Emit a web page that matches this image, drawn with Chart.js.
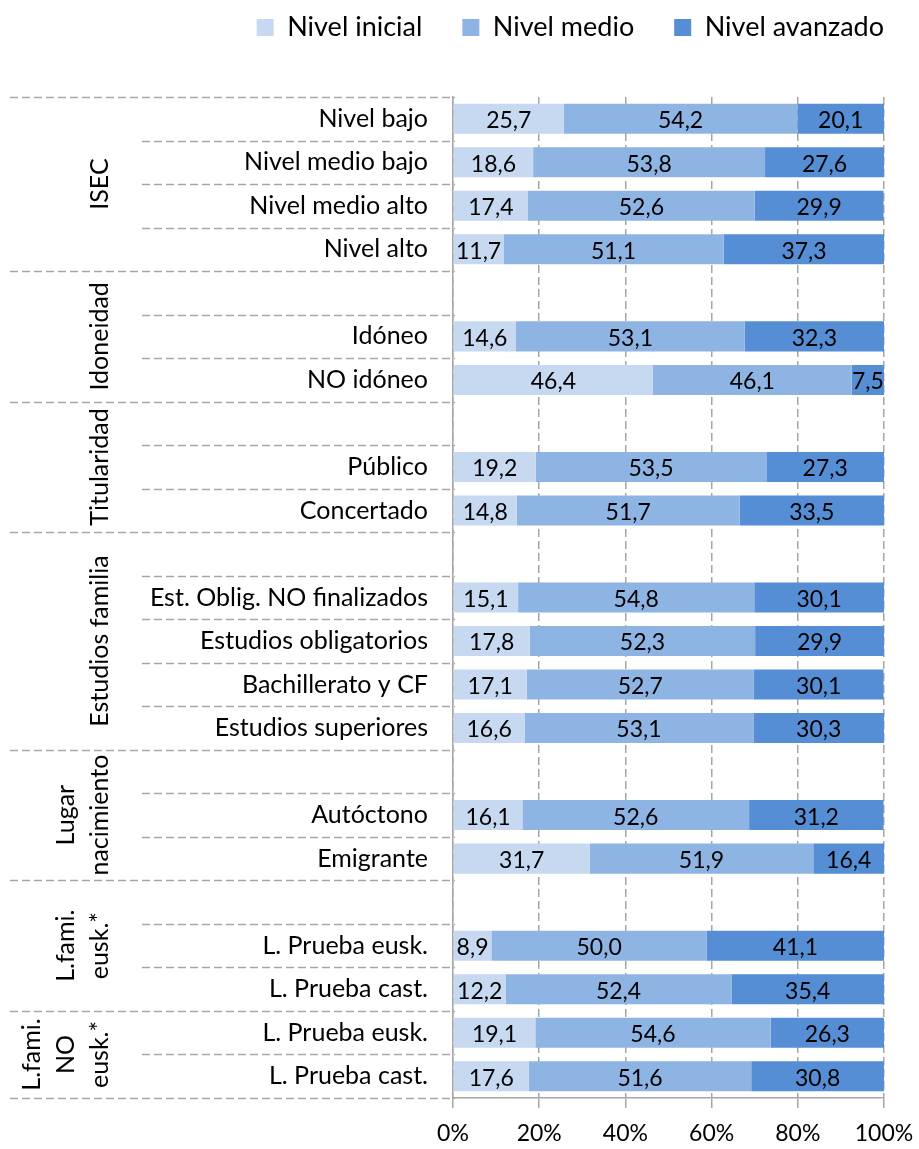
<!DOCTYPE html>
<html>
<head>
<meta charset="utf-8">
<script src="https://cdn.jsdelivr.net/npm/chart.js@4"></script>
<style>
  html, body { margin: 0; padding: 0; background: #fff; }
  #wrap { width: 919px; height: 1149px; }
</style>
</head>
<body>
<div id="wrap"><canvas id="context"></canvas></div>
<script>
// category rows, '' = empty spacer row
const categories = [
  'Nivel bajo', 'Nivel medio bajo', 'Nivel medio alto', 'Nivel alto',
  '', 'Idóneo', 'NO idóneo',
  '', 'Público', 'Concertado',
  '', 'Est. Oblig. NO finalizados', 'Estudios obligatorios', 'Bachillerato y CF', 'Estudios superiores',
  '', 'Autóctono', 'Emigrante',
  '', 'L. Prueba eusk.', 'L. Prueba cast.',
  'L. Prueba eusk.', 'L. Prueba cast.'
];
const nivelInicial = [25.7, 18.6, 17.4, 11.7, null, 14.6, 46.4, null, 19.2, 14.8, null, 15.1, 17.8, 17.1, 16.6, null, 16.1, 31.7, null, 8.9, 12.2, 19.1, 17.6];
const nivelMedio = [54.2, 53.8, 52.6, 51.1, null, 53.1, 46.1, null, 53.5, 51.7, null, 54.8, 52.3, 52.7, 53.1, null, 52.6, 51.9, null, 50.0, 52.4, 54.6, 51.6];
const nivelAvanzado = [20.1, 27.6, 29.9, 37.3, null, 32.3, 7.5, null, 27.3, 33.5, null, 30.1, 29.9, 30.1, 30.3, null, 31.2, 16.4, null, 41.1, 35.4, 26.3, 30.8];

// groups on the left (rotated), with how many rows each spans
const groupNames = [['ISEC'], ['Idoneidad'], ['Titularidad'], ['Estudios familia'], ['Lugar', 'nacimiento'], ['L.fami.', 'eusk.*'], ['L.fami.', 'NO', 'eusk.*']];
const groupSizes = [4, 3, 3, 5, 3, 3, 2];

const FONT = 'Lato, "Open Sans", sans-serif';
const GRID = '#a6a6a6';

/**
 * Draws the value inside each bar segment
 */
const valueLabels = {
  id: 'valueLabels',
  afterDatasetsDraw(chart) {
    const ctx = chart.ctx;
    ctx.save();
    ctx.font = '23px ' + FONT;
    ctx.fillStyle = '#000';
    ctx.textAlign = 'center';
    ctx.textBaseline = 'middle';
    chart.data.datasets.forEach((ds, i) => {
      chart.getDatasetMeta(i).data.forEach((bar, j) => {
        const v = ds.data[j];
        if (v == null) return;
        ctx.fillText(v.toFixed(1).replace('.', ','), (bar.x + bar.base) / 2, bar.y + 2);
      });
    });
    ctx.restore();
  }
};

/**
 * Dashed row separators in the label area plus the rotated group names
 */
const groupLines = {
  id: 'groupLines',
  afterDraw(chart) {
    const y = chart.scales.y;
    const left = chart.chartArea.left;
    const ctx = chart.ctx;
    const step = y.getPixelForValue(1) - y.getPixelForValue(0);
    const bound = k => y.getPixelForValue(k) - step / 2;

    const starts = [0];
    groupSizes.forEach(s => starts.push(starts[starts.length - 1] + s));

    ctx.save();
    ctx.strokeStyle = GRID;
    ctx.lineWidth = 1.5;
    ctx.setLineDash([8, 4]);
    for (let k = 0; k <= categories.length; k++) {
      const py = Math.round(bound(k)) + 0.5;
      const x0 = starts.includes(k) ? 10 : 142;
      ctx.beginPath();
      ctx.moveTo(x0, py);
      ctx.lineTo(left + 2, py);
      ctx.stroke();
    }
    ctx.setLineDash([]);

    ctx.font = '25px ' + FONT;
    ctx.fillStyle = '#000';
    ctx.textAlign = 'center';
    ctx.textBaseline = 'middle';
    groupNames.forEach((lines, g) => {
      const cy = (bound(starts[g]) + bound(starts[g + 1])) / 2;
      lines.forEach((line, i) => {
        const cx = 100 - (lines.length - 1 - i) * 34;
        ctx.save();
        ctx.translate(cx, cy);
        ctx.rotate(-Math.PI / 2);
        ctx.fillText(line, 0, 0);
        ctx.restore();
      });
    });
    ctx.restore();
  }
};

/**
 * Fixes the legend height so the plot starts where the original one does,
 * and moves the legend row up/right to where it sits in the original
 */
const legendPlace = {
  id: 'legendPlace',
  beforeInit(chart) {
    const fit = chart.legend.fit;
    chart.legend.fit = function () {
      fit.bind(chart.legend)();
      this.height = 97;
    };
  },
  afterLayout(chart) {
    chart.legend.top = -26;
    chart.legend.right += 40;
  }
};

function init() {
  const ctx = document.getElementById('context');

  const data = {
    labels: categories,
    datasets: [
      { label: 'Nivel inicial', data: nivelInicial, backgroundColor: '#c6d9f1' },
      { label: 'Nivel medio', data: nivelMedio, backgroundColor: '#8eb4e3' },
      { label: 'Nivel avanzado', data: nivelAvanzado, backgroundColor: '#558ed5' }
    ]
  };

  new Chart(ctx, {
    type: 'bar',
    data,
    plugins: [legendPlace, valueLabels, groupLines],
    options: {
      indexAxis: 'y',
      responsive: true,
      maintainAspectRatio: false,
      animation: false,
      datasets: {
        bar: { barPercentage: 0.69, categoryPercentage: 1 }
      },
      layout: { padding: { left: 0, right: 35, top: 0, bottom: 0 } },
      scales: {
        x: {
          stacked: true,
          min: 0,
          max: 100,
          ticks: {
            stepSize: 20,
            font: { family: FONT, size: 23 },
            color: '#000',
            padding: 12,
            callback: v => v + '%'
          },
          grid: {
            color: GRID,
            lineWidth: 1.5,
            tickLength: 10,
            tickColor: GRID,
            tickBorderDash: [],
          },
          border: { display: true, color: GRID, width: 1.5, dash: [8, 4] },
          afterFit: scale => {
            scale.height = 51;
            scale.paddingLeft = 0;
            scale.paddingRight = 0;
          }
        },
        y: {
          stacked: true,
          ticks: {
            font: { family: FONT, size: 25 },
            color: '#000',
            padding: 25,
            autoSkip: false
          },
          grid: { display: true, drawOnChartArea: false, drawTicks: false },
          border: { display: true, color: GRID, width: 1.5, dash: [8, 4] },
          afterFit: scale => { scale.width = 453; }
        }
      },
      plugins: {
        legend: {
          position: 'top',
          align: 'end',
          labels: {
            boxWidth: 17,
            boxHeight: 17,
            padding: 40,
            color: '#000',
            font: { family: FONT, size: 27 }
          }
        },
        tooltip: { enabled: false }
      }
    }
  });
}

init();
</script>
</body>
</html>
